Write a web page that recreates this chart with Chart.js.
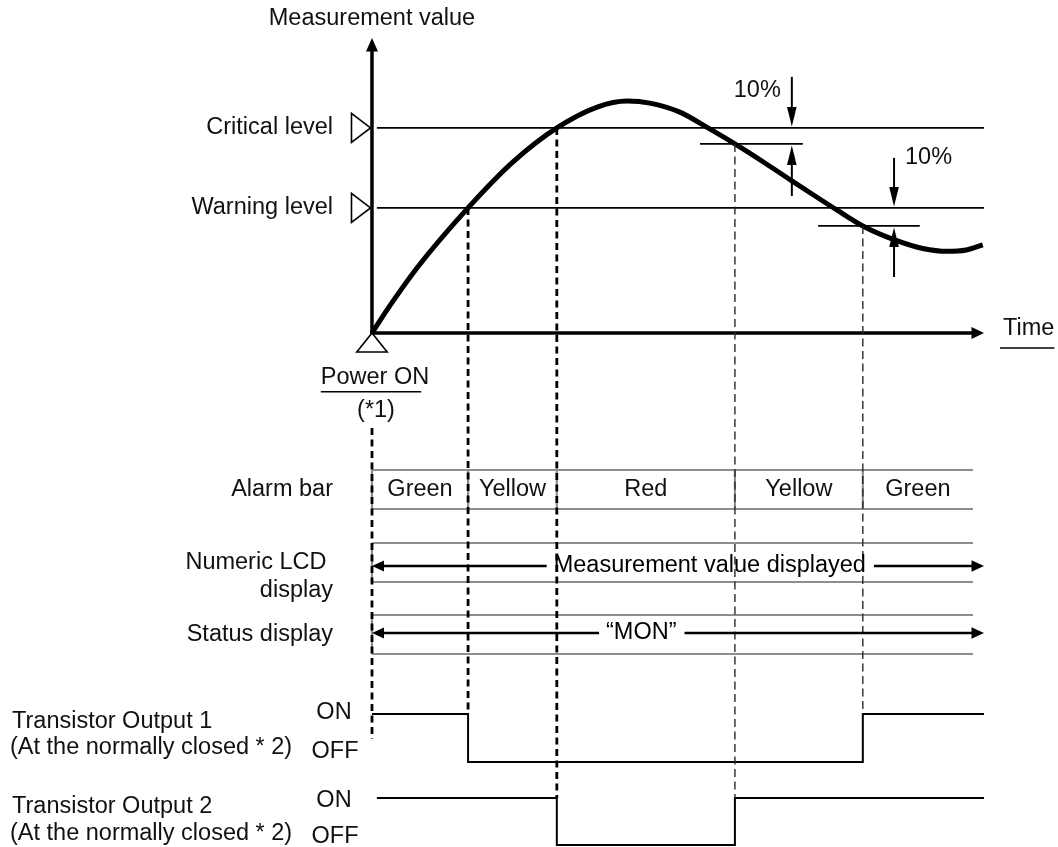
<!DOCTYPE html>
<html>
<head>
<meta charset="utf-8">
<title>Alarm timing chart</title>
<script src="https://cdn.jsdelivr.net/npm/chart.js@4.4.1/dist/chart.umd.min.js"></script>
<style>
  html, body { margin: 0; padding: 0; background: #ffffff; }
  canvas { display: block; }
</style>
</head>
<body>
<canvas id="timing" width="1058" height="847"></canvas>
<script>
const eventNames = ['Power ON', 'Warning', 'Critical', 'Critical release', 'Warning release'];
const eventTimes = [0, 15.7, 30.2, 59.3, 80.2];
const eventLevels = [0, 61, 100, 92.2, 52.2];
const endTime = 100;
const alarmBar = ['Green', 'Yellow', 'Red', 'Yellow', 'Green'];
const output1 = [1, 0, 0, 0, 1];
const output2 = [1, 1, 0, 1, 1];
const curveTime = [0, 2.9, 7.35, 15.7, 23.0, 30.2, 36.8, 41.7, 45.4, 50.3, 54.9, 59.3, 64.2, 68.6, 72.4, 76.0, 80.2, 85.3, 90.0, 94.0, 97.1, 99.8];
const curveValue = [0, 13.2, 31.7, 61, 83.3, 100, 110.2, 113.1, 112.1, 107.7, 100, 92.2, 82.9, 74.2, 66.8, 59.9, 52.2, 45.5, 41.2, 39.8, 40.5, 43.0];
const criticalLevel = 100;
const warningLevel = 61;
const criticalRelease = 92.2;
const warningRelease = 52.2;
const outputNames = ['Transistor Output 1', 'Transistor Output 2'];
const outputNote = '(At the normally closed * 2)';

// layout (not data)
const FONT = '23.5px "Liberation Sans", Arial, sans-serif';
const INK = '#111111';
const RULE = '#8e8e8e';
const TIME_RANGE = [-60.78, 112.09];
const VALUE_RANGE = [-250.7, 162.4];
const CANVAS_H = 847;
const ROW_END = 98.2;
const LEVEL_START = 0.8;
const AXIS_TOP = 143.9;
const LANES = {
  alarm: [470, 509],
  lcd: [543, 582],
  status: [615, 654],
  out1: [714, 762],
  out2: [798, 845],
};
const OUTPUT_STARTS = [0, 0.8];
const POWER_DASH = [428, 739];
const HYST = [
  { level: criticalLevel, release: criticalRelease, t: 68.6, from: 53.6, to: 70.4, top: 124.9, bottom: 66.8, side: -1, labelY: 118.3 },
  { level: warningLevel, release: warningRelease, t: 85.3, from: 72.9, to: 89.5, top: 85.4, bottom: 27.3, side: 1, labelY: 85.6 },
];

const laneOf = (lane, state) => (state ? lane[0] : lane[1]);

function stepData(states, lane, start) {
  const pts = states.map((s, i) => ({ x: i === 0 ? start : eventTimes[i], y: laneOf(lane, s) }));
  pts.push({ x: endTime, y: laneOf(lane, states[states.length - 1]) });
  return pts;
}

function line(ctx, x1, y1, x2, y2) {
  ctx.beginPath();
  ctx.moveTo(x1, y1);
  ctx.lineTo(x2, y2);
  ctx.stroke();
}

function arrowHead(ctx, tipX, tipY, dirX, dirY, len, half) {
  const bx = tipX - dirX * len;
  const by = tipY - dirY * len;
  ctx.beginPath();
  ctx.moveTo(tipX, tipY);
  ctx.lineTo(bx - dirY * half, by + dirX * half);
  ctx.lineTo(bx + dirY * half, by - dirX * half);
  ctx.closePath();
  ctx.fill();
}

function label(ctx, str, x, y, align) {
  ctx.textAlign = align || 'center';
  ctx.fillText(str, x, y);
  return ctx.measureText(str).width;
}

function pix(chart) {
  const xs = chart.scales.x;
  const ys = chart.scales.y;
  const ls = chart.scales.lane;
  return {
    X: (t) => xs.getPixelForValue(t),
    Y: (v) => ys.getPixelForValue(v),
    L: (v) => ls.getPixelForValue(v),
  };
}

// double headed arrow with text in the middle
function spanArrow(ctx, X, y, text, centerT) {
  const w = ctx.measureText(text).width;
  const cx = X(centerT);
  ctx.lineWidth = 2.5;
  line(ctx, X(0) + 8, y, cx - w / 2 - 7, y);
  line(ctx, cx + w / 2 + 8, y, X(endTime) - 8, y);
  arrowHead(ctx, X(0), y, -1, 0, 12, 5.5);
  arrowHead(ctx, X(endTime), y, 1, 0, 12.5, 5.8);
  label(ctx, text, cx, y, 'center');
}

const diagramPlugin = {
  id: 'diagram',
  beforeDatasetsDraw(chart) {
    const { ctx } = chart;
    const { X, Y, L } = pix(chart);
    ctx.save();
    ctx.lineCap = 'butt';
    // display rows
    ctx.strokeStyle = RULE;
    ctx.lineWidth = 2.2;
    [LANES.alarm, LANES.lcd, LANES.status].forEach(([top, bottom]) => {
      line(ctx, X(0), L(top), X(ROW_END), L(top));
      line(ctx, X(0), L(bottom), X(ROW_END), L(bottom));
      line(ctx, X(0), L(top), X(0), L(bottom));
    });
    eventTimes.slice(1).forEach((t) => line(ctx, X(t), L(LANES.alarm[0]), X(t), L(LANES.alarm[1])));

    // axes
    ctx.strokeStyle = '#000';
    ctx.fillStyle = '#000';
    ctx.lineWidth = 3.5;
    line(ctx, X(0), Y(0) + 1.5, X(0), Y(AXIS_TOP) + 10);
    arrowHead(ctx, X(0), Y(AXIS_TOP), 0, -1, 13.5, 6);
    line(ctx, X(0) - 1.5, Y(0), X(endTime) - 10, Y(0));
    arrowHead(ctx, X(endTime), Y(0), 1, 0, 12.5, 6);
    ctx.restore();
  },
  afterDatasetsDraw(chart) {
    const { ctx } = chart;
    const { X, Y, L } = pix(chart);
    ctx.save();

    // event markers
    eventTimes.forEach((t, i) => {
      let top;
      let bottom;
      if (i === 0) {
        top = L(POWER_DASH[0]);
        bottom = L(POWER_DASH[1]);
      } else {
        top = Y(eventLevels[i]);
        const lane = output1[i] !== output1[i - 1] ? LANES.out1 : LANES.out2;
        bottom = L(lane[0]);
      }
      const release = eventNames[i].includes('release');
      ctx.setLineDash(release ? [8, 4.5] : [7, 4.5]);
      ctx.lineWidth = release ? 1.4 : 2.8;
      ctx.strokeStyle = release ? '#2a2a2a' : '#000';
      line(ctx, X(t), top, X(t), bottom);
    });
    ctx.setLineDash([]);

    // level markers
    ctx.strokeStyle = '#000';
    ctx.fillStyle = '#fff';
    ctx.lineWidth = 1.6;
    ctx.lineJoin = 'miter';
    [criticalLevel, warningLevel].forEach((lv) => {
      const ax = X(0) - 1.5;
      const ay = Y(lv);
      ctx.beginPath();
      ctx.moveTo(ax, ay);
      ctx.lineTo(ax - 19, ay - 14.5);
      ctx.lineTo(ax - 19, ay + 14.5);
      ctx.closePath();
      ctx.fill();
      ctx.stroke();
    });
    // power on marker
    ctx.beginPath();
    ctx.moveTo(X(0), Y(0));
    ctx.lineTo(X(0) - 15.2, Y(0) + 19);
    ctx.lineTo(X(0) + 15.2, Y(0) + 19);
    ctx.closePath();
    ctx.fill();
    ctx.stroke();

    // 10% hysteresis arrows
    ctx.fillStyle = '#000';
    ctx.font = FONT;
    ctx.textBaseline = 'middle';
    HYST.forEach((h) => {
      const x = X(h.t);
      ctx.lineWidth = 2;
      line(ctx, x, Y(h.top), x, Y(h.level) - 15);
      arrowHead(ctx, x, Y(h.level) - 1.5, 0, 1, 19.5, 4.8);
      line(ctx, x, Y(h.bottom), x, Y(h.release) + 15);
      arrowHead(ctx, x, Y(h.release) + 1.5, 0, -1, 19.5, 4.8);
      ctx.fillStyle = INK;
      if (h.side < 0) label(ctx, '10%', x - 11, Y(h.labelY), 'right');
      else label(ctx, '10%', x + 11, Y(h.labelY), 'left');
      ctx.fillStyle = '#000';
    });

    // display rows: arrows and cell text
    ctx.strokeStyle = '#000';
    spanArrow(ctx, X, L(566), 'Measurement value displayed', 55.2);
    spanArrow(ctx, X, L(633), '\u201CMON\u201D', 44.0);

    ctx.fillStyle = INK;
    alarmBar.forEach((name, i) => {
      const t0 = eventTimes[i];
      const t1 = i + 1 < eventTimes.length ? eventTimes[i + 1] : ROW_END;
      label(ctx, name, X((t0 + t1) / 2), L(489.5), 'center');
    });

    // axis texts
    const right = X(0) - 39;
    label(ctx, 'Measurement value', X(0), Y(153.2), 'center');
    label(ctx, 'Critical level', right, Y(criticalLevel), 'right');
    label(ctx, 'Warning level', right, Y(warningLevel), 'right');
    const tw = label(ctx, 'Time', X(endTime) + 19, Y(0) - 4, 'left');
    ctx.strokeStyle = '#000';
    ctx.lineWidth = 1.5;
    line(ctx, X(endTime) + 16, Y(0) + 15, X(endTime) + 19 + tw, Y(0) + 15);

    const pw = label(ctx, 'Power ON', X(0) + 3, L(377.5), 'center');
    line(ctx, X(0) + 3 - pw / 2, L(391.7), X(0) + 3 + pw / 2 - 8, L(391.7));
    label(ctx, '(*1)', X(0) + 4, L(410.5), 'center');

    label(ctx, 'Alarm bar', right, L(490), 'right');
    label(ctx, 'Numeric LCD ', right, L(563), 'right');
    label(ctx, 'display', right, L(591), 'right');
    label(ctx, 'Status display', right, L(635), 'right');

    // transistor outputs
    const nameY = [[722, 748], [807, 834]];
    const stateY = [[713, 752], [801, 837]];
    outputNames.forEach((name, k) => {
      label(ctx, name, 12, L(nameY[k][0]), 'left');
      label(ctx, outputNote, 10, L(nameY[k][1]), 'left');
      label(ctx, 'ON', X(0) - 38, L(stateY[k][0]), 'center');
      label(ctx, 'OFF', X(0) - 37, L(stateY[k][1]), 'center');
    });
    ctx.restore();
  },
};

const thin = { borderColor: '#000', pointRadius: 0, fill: false };

new Chart(document.getElementById('timing'), {
  type: 'line',
  data: {
    datasets: [
      {
        label: 'Measurement value',
        data: curveTime.map((t, i) => ({ x: t, y: curveValue[i] })),
        borderColor: '#000',
        borderWidth: 5,
        cubicInterpolationMode: 'monotone',
        pointRadius: 0,
        yAxisID: 'y',
      },
      { ...thin, label: 'Critical level', data: [{ x: LEVEL_START, y: criticalLevel }, { x: endTime, y: criticalLevel }], borderWidth: 1.8, yAxisID: 'y' },
      { ...thin, label: 'Warning level', data: [{ x: LEVEL_START, y: warningLevel }, { x: endTime, y: warningLevel }], borderWidth: 1.8, yAxisID: 'y' },
      { ...thin, label: 'Critical release', data: [{ x: HYST[0].from, y: criticalRelease }, { x: HYST[0].to, y: criticalRelease }], borderWidth: 1.8, yAxisID: 'y' },
      { ...thin, label: 'Warning release', data: [{ x: HYST[1].from, y: warningRelease }, { x: HYST[1].to, y: warningRelease }], borderWidth: 1.8, yAxisID: 'y' },
      { ...thin, label: outputNames[0], data: stepData(output1, LANES.out1, OUTPUT_STARTS[0]), stepped: 'before', borderWidth: 2, yAxisID: 'lane' },
      { ...thin, label: outputNames[1], data: stepData(output2, LANES.out2, OUTPUT_STARTS[1]), stepped: 'before', borderWidth: 2, yAxisID: 'lane' },
    ],
  },
  options: {
    responsive: false,
    animation: false,
    devicePixelRatio: 1,
    events: [],
    layout: { padding: 0, autoPadding: false },
    plugins: { legend: { display: false }, tooltip: { enabled: false } },
    scales: {
      x: { type: 'linear', min: TIME_RANGE[0], max: TIME_RANGE[1], display: false },
      y: { type: 'linear', min: VALUE_RANGE[0], max: VALUE_RANGE[1], display: false },
      lane: { type: 'linear', min: 0, max: CANVAS_H, reverse: true, display: false },
    },
  },
  plugins: [diagramPlugin],
});
</script>
</body>
</html>
